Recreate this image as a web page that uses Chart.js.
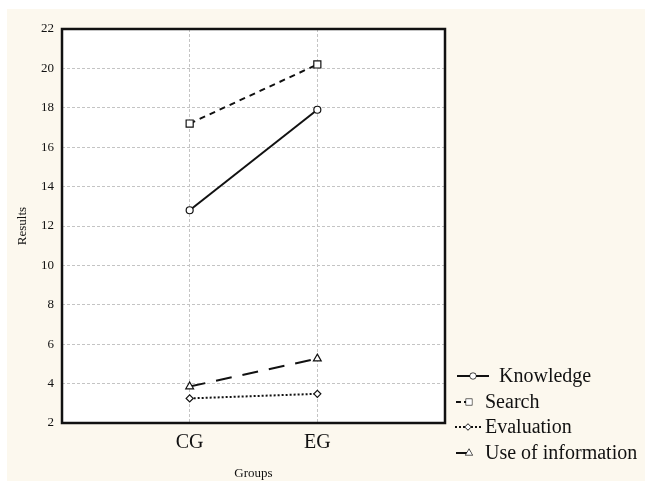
<!DOCTYPE html>
<html>
<head>
<meta charset="utf-8">
<script src="https://cdn.jsdelivr.net/npm/chart.js@4.4.1/dist/chart.umd.min.js"></script>
<style>
  html, body { margin: 0; padding: 0; background: #ffffff; }
  #wrap { width: 645px; height: 481px; }
</style>
</head>
<body>
<div id="wrap"><canvas id="groupsChart" width="645" height="481"></canvas></div>
<script>
// Results by group
const groups = ['CG', 'EG'];
const knowledge = [12.8, 17.9];
const search = [17.2, 20.2];
const evaluation = [3.25, 3.48];
const useOfInformation = [3.85, 5.27];
const yTicks = [2, 4, 6, 8, 10, 12, 14, 16, 18, 20, 22];

const serif = 'Liberation Serif';
const ink = '#111111';

// category i sits at x = i + 1 on a 0..3 axis
const toPoints = (vals) => vals.map((v, i) => ({ x: i + 1, y: v }));

// cream page, white plot, black frame, and the line-sample legend
const frame = {
    id: 'frame',
    beforeDraw: (chart) => {
        const { ctx, chartArea: a } = chart;
        ctx.save();
        ctx.fillStyle = '#fcf8ee';
        ctx.fillRect(7, 9, chart.width - 7, chart.height - 9);
        ctx.fillStyle = '#ffffff';
        ctx.fillRect(a.left, a.top, a.right - a.left, a.bottom - a.top);
        ctx.restore();
    },
    afterDraw: (chart) => {
        const { ctx, chartArea: a } = chart;
        ctx.save();
        ctx.strokeStyle = ink;
        ctx.lineWidth = 2.5;
        ctx.strokeRect(a.left, a.top, a.right - a.left, a.bottom - a.top);

        // legend samples
        const rows = [
            { y: 376, x1: 457, x2: 489, mx: 473, tx: 499 },
            { y: 402, x1: 456, x2: 468, mx: 469, tx: 485 },
            { y: 427, x1: 455, x2: 481, mx: 468, tx: 485 },
            { y: 453, x1: 456, x2: 468, mx: 469, tx: 485 }
        ];
        chart.data.datasets.forEach((ds, i) => {
            const r = rows[i];
            ctx.setLineDash(ds.legendDash || []);
            ctx.lineWidth = 2;
            ctx.strokeStyle = ink;
            ctx.beginPath();
            ctx.moveTo(r.x1, r.y);
            ctx.lineTo(r.x2, r.y);
            ctx.stroke();
            ctx.setLineDash([]);
            ctx.fillStyle = '#ffffff';
            ctx.lineWidth = 1.2;
            Chart.helpers.drawPoint(ctx, {
                pointStyle: ds.pointStyle,
                radius: ds.pointRadius * 0.8,
                borderWidth: 1.2
            }, r.mx, r.y);
            ctx.fill();
            ctx.fillStyle = ink;
            ctx.font = '20px "' + serif + '"';
            ctx.textBaseline = 'middle';
            ctx.textAlign = 'left';
            ctx.fillText(ds.label, r.tx, r.y + 1);
        });
        ctx.restore();
    }
};

const baseLine = {
    borderColor: ink,
    borderWidth: 2,
    pointBackgroundColor: '#ffffff',
    pointBorderColor: ink,
    pointBorderWidth: 1.2,
    fill: false,
    tension: 0
};

new Chart(document.getElementById('groupsChart'), {
    type: 'line',
    data: {
        datasets: [
            { ...baseLine, label: 'Knowledge', data: toPoints(knowledge),
              pointStyle: 'circle', pointRadius: 3.5 },
            { ...baseLine, label: 'Search', data: toPoints(search),
              borderDash: [6, 5], legendDash: [5, 3], pointStyle: 'rect', pointRadius: 5 },
            { ...baseLine, label: 'Evaluation', data: toPoints(evaluation),
              borderDash: [2, 2], legendDash: [2, 2], pointStyle: 'rectRot', pointRadius: 3.5 },
            { ...baseLine, label: 'Use of information', data: toPoints(useOfInformation),
              borderDash: [16, 11], pointStyle: 'triangle', pointRadius: 4.5 }
        ]
    },
    options: {
        responsive: false,
        animation: false,
        layout: {
            padding: { left: 0, top: 29, right: 200, bottom: 0 }
        },
        plugins: {
            legend: { display: false },
            tooltip: { enabled: false }
        },
        scales: {
            x: {
                type: 'linear',
                min: 0,
                max: 3,
                afterBuildTicks: (s) => { s.ticks = [0, 1, 2, 3].map(v => ({ value: v })); },
                afterFit: (s) => { s.height = 58; },
                border: { display: false },
                grid: {
                    color: (c) => (c.tick && (c.tick.value === 1 || c.tick.value === 2)) ? '#c4c4c4' : 'rgba(0,0,0,0)',
                    lineWidth: 1,
                    drawTicks: false,
                    tickBorderDash: [3, 2]
                },
                border: { display: false, dash: [3, 2] },
                ticks: {
                    padding: 8,
                    color: ink,
                    font: { family: serif, size: 20 },
                    callback: (v) => groups[v - 1] || ''
                },
                title: {
                    display: true,
                    text: 'Groups',
                    color: ink,
                    font: { family: serif, size: 13 },
                    padding: { top: 4, bottom: 0 }
                }
            },
            y: {
                min: 2,
                max: 22,
                afterBuildTicks: (s) => { s.ticks = yTicks.map(v => ({ value: v })); },
                afterFit: (s) => { s.width = 62; },
                border: { display: false, dash: [3, 2] },
                grid: {
                    color: (c) => (c.tick && c.tick.value > 2 && c.tick.value < 22) ? '#c4c4c4' : 'rgba(0,0,0,0)',
                    lineWidth: 1,
                    drawTicks: false
                },
                ticks: {
                    padding: 8,
                    color: ink,
                    font: { family: serif, size: 13 }
                },
                title: {
                    display: true,
                    text: 'Results',
                    color: ink,
                    font: { family: serif, size: 13 },
                    padding: { top: 15, bottom: 0 }
                }
            }
        }
    },
    plugins: [frame]
});
</script>
</body>
</html>
